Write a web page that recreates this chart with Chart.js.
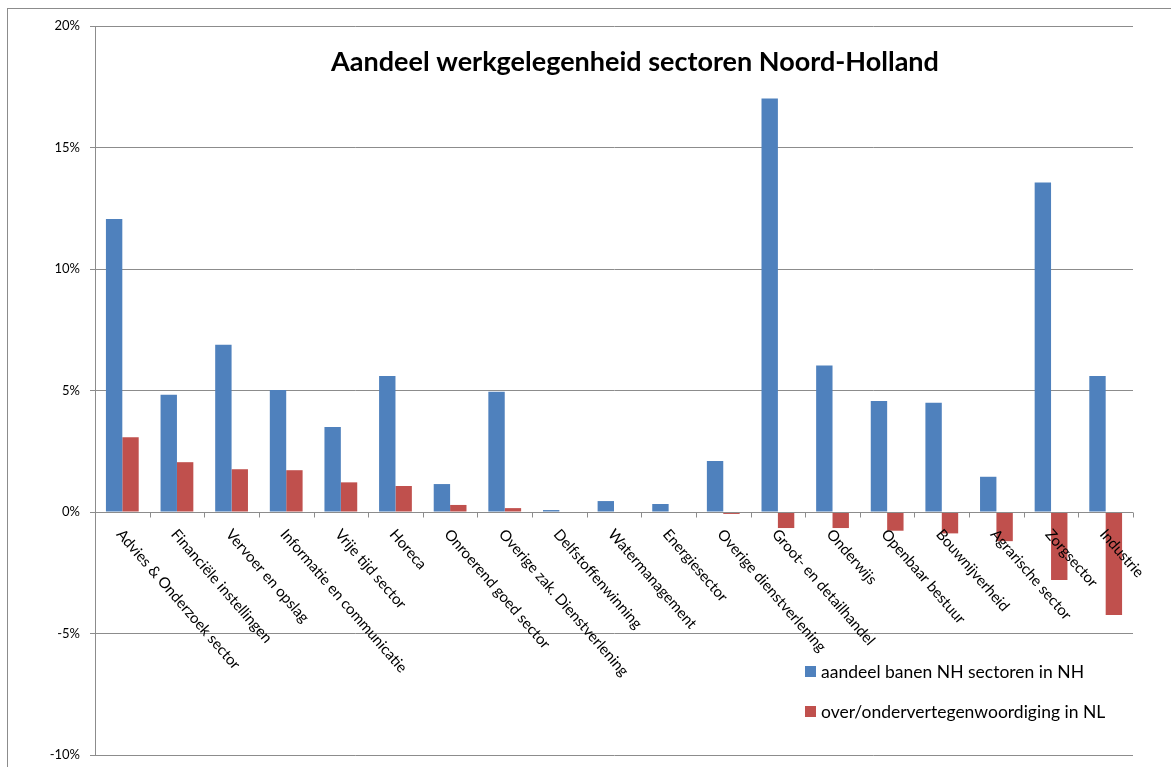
<!DOCTYPE html>
<html>
<head>
<meta charset="utf-8">
<script src="https://cdn.jsdelivr.net/npm/chart.js@4"></script>
<style>
  html, body { margin: 0; padding: 0; background: #fff; }
  #wrap { width: 1171px; height: 767px; }
</style>
</head>
<body>
<div id="wrap"><canvas id="sectorChart" width="1171" height="767"></canvas></div>
<script>
// sectoren
const categories = [
    "Advies & Onderzoek sector", "Financiële instellingen", "Vervoer en opslag",
    "Informatie en communicatie", "Vrije tijd sector", "Horeca", "Onroerend goed sector",
    "Overige zak. Dienstverlening", "Delfstoffenwinning", "Watermanagement", "Energiesector",
    "Overige dienstverlening", "Groot- en detailhandel", "Onderwijs", "Openbaar bestuur",
    "Bouwnijverheid", "Agrarische sector", "Zorgsector", "Industrie"
];
// aandeel banen (%)
const aandeelNH = [12.06, 4.82, 6.88, 5.02, 3.5, 5.6, 1.15, 4.95, 0.08, 0.45, 0.33, 2.1, 17.02, 6.03, 4.57, 4.5, 1.45, 13.56, 5.6];
// over/ondervertegenwoordiging (%-punt)
const overOnderNL = [3.08, 2.05, 1.76, 1.72, 1.22, 1.07, 0.29, 0.16, 0, 0, -0.03, -0.08, -0.66, -0.66, -0.77, -0.88, -1.2, -2.8, -4.24];
const seriesNames = ["aandeel banen NH sectoren in NH", "over/ondervertegenwoordiging in NL"];
const yTicks = [-10, -5, 0, 5, 10, 15, 20];

const chartTitle = "Aandeel werkgelegenheid sectoren Noord-Holland";
const FONT = "Lato, 'Open Sans', sans-serif";

// rand, titel, categorielabels en legenda zelf tekenen
const excelLook = {
    id: "excelLook",
    beforeDraw(chart) {
        const ctx = chart.ctx;
        ctx.save();
        ctx.strokeStyle = "#8c8c8c";
        ctx.lineWidth = 1;
        ctx.strokeRect(7.5, 8.5, 1300, 900);
        ctx.restore();
    },
    afterDatasetsDraw(chart) {
        const ctx = chart.ctx;
        const x = chart.scales.x;
        const y = chart.scales.y;
        const y0 = Math.round(y.getPixelForValue(0)) + 0.5;

        ctx.save();
        // nul-as met streepjes op de categoriegrenzen
        ctx.strokeStyle = "#8c8c8c";
        ctx.lineWidth = 1;
        ctx.beginPath();
        ctx.moveTo(x.left, y0);
        ctx.lineTo(x.right, y0);
        for (let i = 0; i <= categories.length; i++) {
            let px;
            if (i === 0) px = x.left;
            else if (i === categories.length) px = x.right;
            else px = (x.getPixelForValue(i - 1) + x.getPixelForValue(i)) / 2;
            px = Math.round(px) + 0.5;
            ctx.moveTo(px, y0);
            ctx.lineTo(px, y0 + 5);
        }
        ctx.stroke();

        // schuine labels
        ctx.fillStyle = "#000";
        ctx.font = "15px " + FONT;
        ctx.textAlign = "left";
        ctx.textBaseline = "middle";
        categories.forEach((c, i) => {
            const cx = x.getPixelForValue(i);
            ctx.save();
            ctx.translate(cx - 3, y0 + 19);
            ctx.rotate(49 * Math.PI / 180);
            ctx.fillText(c, 0, 0);
            ctx.restore();
        });

        // titel
        ctx.font = "bold 27px " + FONT;
        ctx.textAlign = "center";
        ctx.fillText(chartTitle, 635, 62);

        // legenda
        ctx.font = "17.5px " + FONT;
        ctx.textAlign = "left";
        chart.data.datasets.forEach((ds, i) => {
            const ly = 672 + i * 40;
            ctx.fillStyle = ds.backgroundColor;
            ctx.fillRect(805, ly - 6, 11, 11);
            ctx.fillStyle = "#000";
            ctx.fillText(ds.label, 821, ly);
        });
        ctx.restore();
    }
};

new Chart(document.getElementById("sectorChart"), {
    type: "bar",
    data: {
        labels: categories,
        datasets: [
            { label: seriesNames[0], data: aandeelNH, backgroundColor: "#4F81BD" },
            { label: seriesNames[1], data: overOnderNL, backgroundColor: "#C0504D" }
        ]
    },
    options: {
        responsive: false,
        animation: false,
        categoryPercentage: 0.6,
        barPercentage: 1,
        layout: { padding: { left: 0, top: 26, right: 38, bottom: 12 } },
        plugins: {
            legend: { display: false },
            title: { display: false },
            tooltip: { enabled: false }
        },
        scales: {
            x: { display: false },
            y: {
                min: -10,
                max: 20,
                afterBuildTicks(s) { s.ticks = yTicks.map(v => ({ value: v })); },
                afterFit(s) {
                    s.width = 95;
                    s.paddingTop = 0;
                    s.paddingBottom = 0;
                },
                ticks: {
                    callback: v => v + "%",
                    font: { family: FONT, size: 13 },
                    color: "#000",
                    padding: 10
                },
                grid: { color: "#8c8c8c", tickLength: 5 },
                border: { color: "#8c8c8c" }
            }
        }
    },
    plugins: [excelLook]
});
</script>
</body>
</html>
